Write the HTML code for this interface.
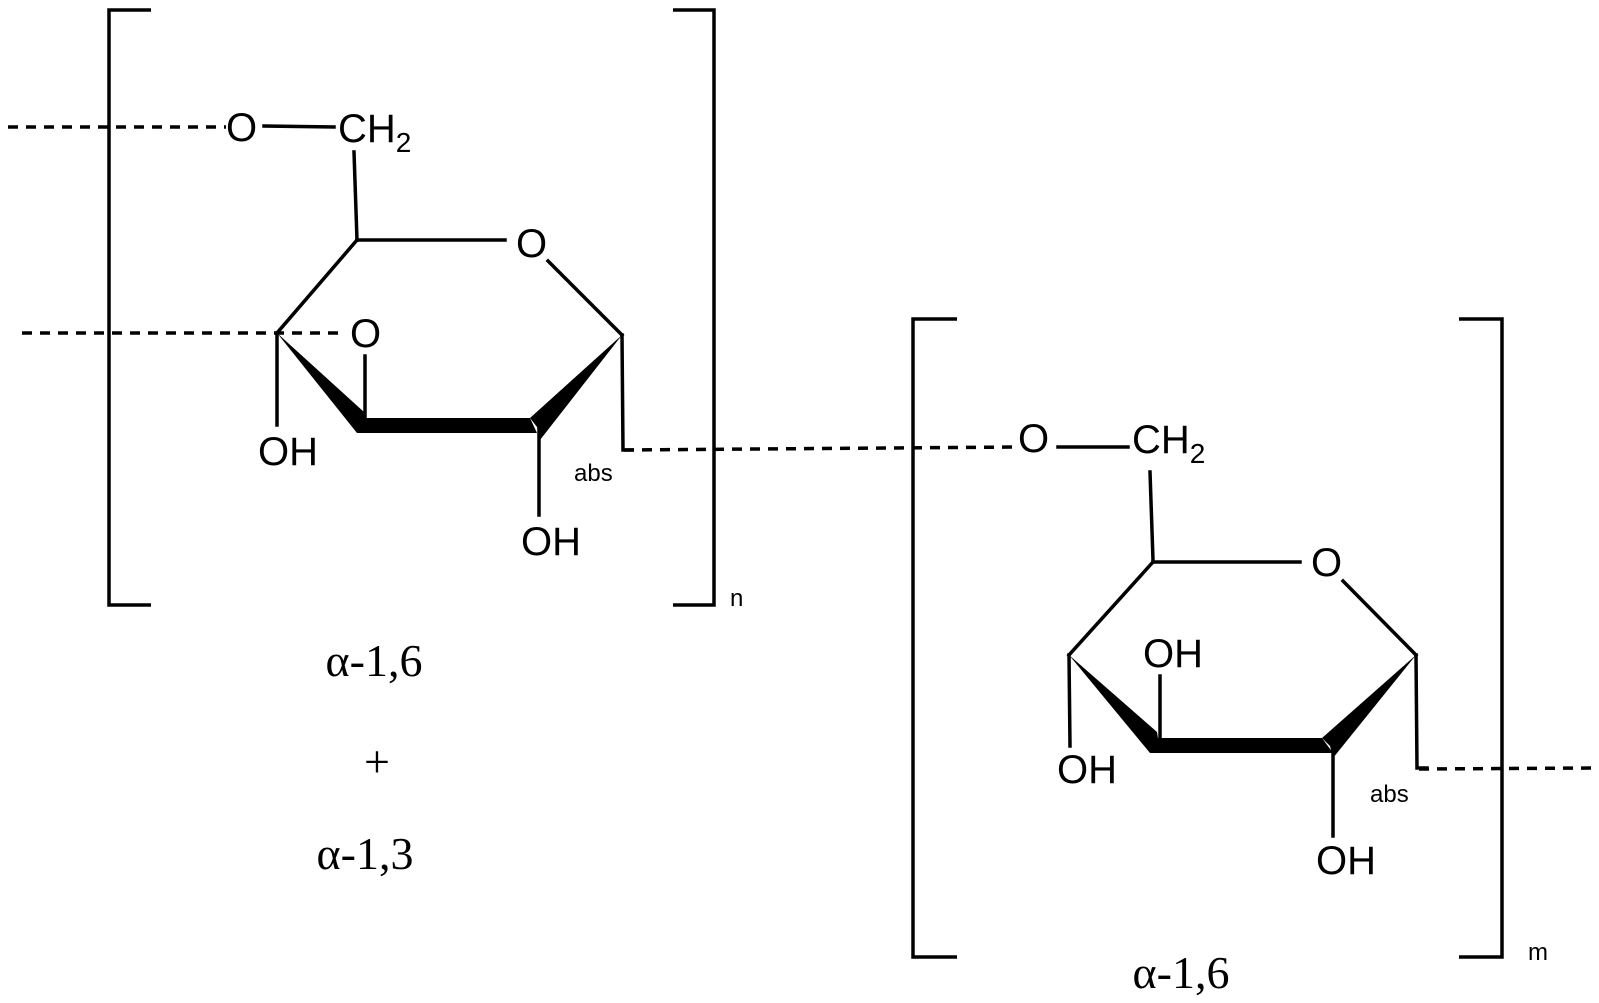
<!DOCTYPE html>
<html><head><meta charset="utf-8"><style>html,body{margin:0;padding:0;background:#fff}svg{display:block}</style></head>
<body>
<svg width="1599" height="1003" viewBox="0 0 1599 1003" xmlns="http://www.w3.org/2000/svg">
<g stroke="#000" stroke-width="3.5" fill="none">
<polyline points="151,10 109,10 109,605 151,605"/>
<polyline points="673,10 714,10 714,605 673,605"/>
<polyline points="957,319 913,319 913,957 957,957"/>
<polyline points="1459,319 1502,319 1502,957 1459,957"/>
</g>
<g stroke="#000" stroke-width="3.5" fill="none" stroke-dasharray="10,8">
<line x1="8" y1="127" x2="226" y2="127"/>
<line x1="22" y1="333" x2="345" y2="333"/>
<line x1="624" y1="450" x2="1020" y2="447"/>
<line x1="1419" y1="769" x2="1592" y2="768"/>
</g>
<g stroke="#000" stroke-width="3.5" fill="none" stroke-linecap="square">
<line x1="264" y1="126" x2="334" y2="127"/>
<line x1="354" y1="152" x2="357" y2="240"/>
<line x1="357" y1="240" x2="505" y2="240"/>
<line x1="548" y1="261" x2="622" y2="335"/>
<line x1="357" y1="240" x2="277" y2="333"/>
<line x1="277" y1="333" x2="277" y2="425"/>
<line x1="365" y1="356" x2="365" y2="420"/>
<polyline points="622,335 623,450 632,450"/>
<line x1="539" y1="430" x2="539" y2="515"/>
<line x1="1058" y1="447" x2="1128" y2="447"/>
<line x1="1150" y1="472" x2="1153" y2="560"/>
<line x1="1153" y1="562" x2="1300" y2="562"/>
<line x1="1343" y1="581" x2="1416" y2="655"/>
<line x1="1153" y1="562" x2="1069" y2="655"/>
<line x1="1069" y1="655" x2="1070" y2="746"/>
<line x1="1160" y1="676" x2="1160" y2="737"/>
<polyline points="1416,655 1417,768 1427,768"/>
<line x1="1333" y1="750" x2="1333" y2="836"/>
</g>
<g fill="#000">
<polygon points="277,333 364,412 366,425 357,433"/>
<polygon points="357,418 530,418 537,433 357,433"/>
<polygon points="622,335 530,418 537,427 540,440"/>
<polygon points="1069,655 1157,732 1159,745 1150,753"/>
<polygon points="1150,738 1322,738 1333,753 1150,753"/>
<polygon points="1416,655 1322,738 1330,746 1333,758"/>
</g>
<g font-family="Liberation Sans, sans-serif" font-size="40" fill="#000">
<text x="226" y="141">O</text>
<text x="338" y="142">CH<tspan font-size="28" dy="10">2</tspan></text>
<text x="516" y="257">O</text>
<text x="350" y="347">O</text>
<text x="258" y="465">OH</text>
<text x="521" y="555">OH</text>
<text x="574" y="481" font-size="24">abs</text>
<text x="730" y="606" font-size="24">n</text>
<text x="1018" y="452">O</text>
<text x="1132" y="453">CH<tspan font-size="28" dy="10">2</tspan></text>
<text x="1311" y="576">O</text>
<text x="1143" y="667">OH</text>
<text x="1057" y="783">OH</text>
<text x="1316" y="874">OH</text>
<text x="1370" y="802" font-size="24">abs</text>
<text x="1528" y="960" font-size="24">m</text>
</g>
<g font-family="Liberation Serif, serif" font-size="46" fill="#000" text-anchor="middle">
<text x="374" y="676">α-1,6</text>
<text x="377" y="777">+</text>
<text x="365" y="869">α-1,3</text>
<text x="1181" y="988">α-1,6</text>
</g>
</svg>
</body></html>
